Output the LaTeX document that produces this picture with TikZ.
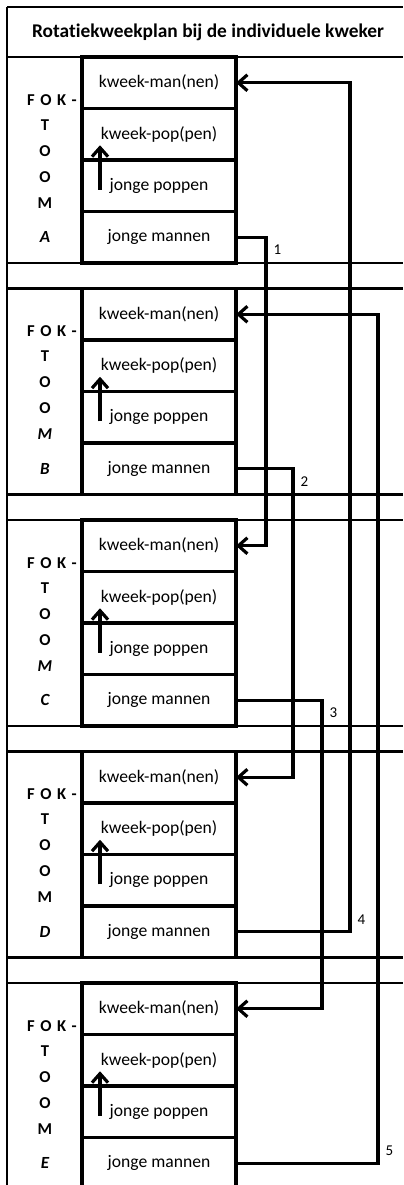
\documentclass[tikz,border=0pt]{standalone}
\usepackage{fontspec}
\setmainfont{Carlito}[Ligatures=NoCommon]
\usepackage{tikz}
\usetikzlibrary{positioning}
\usetikzlibrary{calc}
\usetikzlibrary{arrows.meta}

\tikzset{
  vak/.style={draw, line width=1.7pt, minimum width=77pt, minimum height=25.75pt,
    inner sep=0pt, outer sep=0pt, font=\fontsize{8.8}{11}\selectfont},
  tabel/.style={line width=1.1pt},
  verbind/.style={line width=1.6pt, ->},
  fok/.style={font=\fontsize{8.3}{13}\selectfont\bfseries, align=center, inner sep=0pt},
  letter/.style={font=\fontsize{8.5}{10}\selectfont\bfseries\itshape, inner sep=0pt},
  getal/.style={font=\fontsize{7.5}{9}\selectfont, inner sep=3pt},
  >={Straight Barb[length=4.5pt,width=8pt]}
}

\begin{document}
\begin{tikzpicture}[x=0.5pt, y=-0.5pt]
\useasboundingbox (0,0) rectangle (403,1185);
\clip (0,0) rectangle (403,1185);

\draw[tabel] (7,7) -- (403,7);
\draw[tabel] (7,7) -- (7,1185);
\draw[tabel] (7,57) -- (403,57);
\draw[tabel] (7,263) -- (403,263);
\draw[tabel] (7,288.5) -- (403,288.5);
\draw[tabel] (7,494.5) -- (403,494.5);
\draw[tabel] (7,520) -- (403,520);
\draw[tabel] (7,726) -- (403,726);
\draw[tabel] (7,751.5) -- (403,751.5);
\draw[tabel] (7,957.5) -- (403,957.5);
\draw[tabel] (7,983) -- (403,983);

\node[font=\fontsize{9.7}{11}\selectfont\bfseries] (titel) at (208,32) {Rotatiekweekplan bij de individuele kweker};

\node[vak] (manA) at (159,82.75) {kweek-man(nen)};
\node[vak, below=0pt of manA] (popA) {kweek-pop(pen)};
\node[vak, below=0pt of popA] (poppenA) {jonge poppen};
\node[vak, below=0pt of poppenA] (mannenA) {jonge mannen};
\node[fok] (fokA) at (52,100) {F\,\,O\,\,K\,\,-};
\node[fok] (toomA) at (45,164) {T\\O\\O\\M};
\node[letter] (lettA) at (45,237) {A};

\node[vak] (manB) at (159,314.25) {kweek-man(nen)};
\node[vak, below=0pt of manB] (popB) {kweek-pop(pen)};
\node[vak, below=0pt of popB] (poppenB) {jonge poppen};
\node[vak, below=0pt of poppenB] (mannenB) {jonge mannen};
\node[fok] (fokB) at (52,331.5) {F\,\,O\,\,K\,\,-};
\node[fok] (toomB) at (45,395.5) {T\\O\\O\\\textit{M}};
\node[letter] (lettB) at (45,468.5) {B};

\node[vak] (manC) at (159,545.75) {kweek-man(nen)};
\node[vak, below=0pt of manC] (popC) {kweek-pop(pen)};
\node[vak, below=0pt of popC] (poppenC) {jonge poppen};
\node[vak, below=0pt of poppenC] (mannenC) {jonge mannen};
\node[fok] (fokC) at (52,563) {F\,\,O\,\,K\,\,-};
\node[fok] (toomC) at (45,627) {T\\O\\O\\\textit{M}};
\node[letter] (lettC) at (45,700) {C};

\node[vak] (manD) at (159,777.25) {kweek-man(nen)};
\node[vak, below=0pt of manD] (popD) {kweek-pop(pen)};
\node[vak, below=0pt of popD] (poppenD) {jonge poppen};
\node[vak, below=0pt of poppenD] (mannenD) {jonge mannen};
\node[fok] (fokD) at (52,794.5) {F\,\,O\,\,K\,\,-};
\node[fok] (toomD) at (45,858.5) {T\\O\\O\\M};
\node[letter] (lettD) at (45,931.5) {D};

\node[vak] (manE) at (159,1008.75) {kweek-man(nen)};
\node[vak, below=0pt of manE] (popE) {kweek-pop(pen)};
\node[vak, below=0pt of popE] (poppenE) {jonge poppen};
\node[vak, below=0pt of poppenE] (mannenE) {jonge mannen};
\node[fok] (fokE) at (52,1026) {F\,\,O\,\,K\,\,-};
\node[fok] (toomE) at (45,1090) {T\\O\\O\\M};
\node[letter] (lettE) at (45,1163) {E};

\draw[verbind] ($(poppenA.west)+(18,4)$) -- ($(popA.west)+(18,11)$);
\draw[verbind] ($(poppenB.west)+(18,4)$) -- ($(popB.west)+(18,11)$);
\draw[verbind] ($(poppenC.west)+(18,4)$) -- ($(popC.west)+(18,11)$);
\draw[verbind] ($(poppenD.west)+(18,4)$) -- ($(popD.west)+(18,11)$);
\draw[verbind] ($(poppenE.west)+(18,4)$) -- ($(popE.west)+(18,11)$);

\draw[verbind] (mannenA.east) -- ++(30,0) node[getal, below right] {1} |- (manC.east);
\draw[verbind] (mannenB.east) -- ++(57,0) node[getal, below right] {2} |- (manD.east);
\draw[verbind] (mannenC.east) -- ++(86,0) node[getal, below right] {3} |- (manE.east);
\draw[verbind] (mannenD.east) -- ++(114,0) node[getal, above right] {4} |- (manA.east);
\draw[verbind] (mannenE.east) -- ++(142,0) node[getal, above right] {5} |- (manB.east);
\end{tikzpicture}
\end{document}
